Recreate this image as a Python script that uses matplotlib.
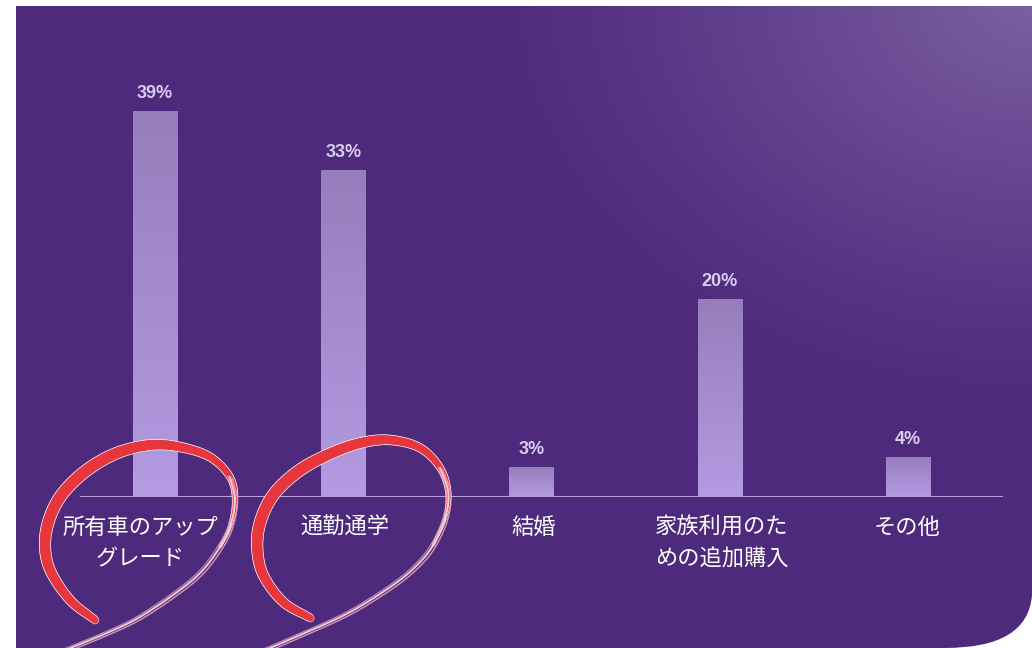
import numpy as np
import matplotlib
matplotlib.use("Agg")
import matplotlib.pyplot as plt
from matplotlib.path import Path
from matplotlib.patches import PathPatch
from matplotlib.collections import LineCollection

plt.rcParams['font.family'] = ['Noto Sans CJK JP', 'DejaVu Sans']

# ---------------- data ----------------
categories = ["所有車のアップ\nグレード", "通勤通学", "結婚", "家族利用のた\nめの追加購入", "その他"]
values = [39, 33, 3, 20, 4]
value_labels = ["39%", "33%", "3%", "20%", "4%"]
highlighted = [0, 1]

# ---------------- figure ----------------
W, H = 1032, 648
DPI = 100
fig = plt.figure(figsize=(W / DPI, H / DPI), dpi=DPI)
fig.patch.set_facecolor('white')

# background panel with gradient
bg = fig.add_axes([0, 0, 1, 1], zorder=0)
bg.axis('off')
verts = [(16, 6), (1032, 6), (1032, 595), (1028, 648), (945, 648), (16, 648), (16, 6)]
codes = [Path.MOVETO, Path.LINETO, Path.LINETO, Path.CURVE3, Path.CURVE3,
         Path.LINETO, Path.CLOSEPOLY]
yy, xx = np.mgrid[0:H, 0:W]
d = np.sqrt(((W - xx) / 560.0) ** 2 + (yy / 420.0) ** 2)
t = np.clip(1 - d, 0, 1) ** 1.2
base = np.array([78, 42, 124]) / 255
light = np.array([124, 96, 162]) / 255
img = base[None, None, :] * (1 - t[..., None]) + light[None, None, :] * t[..., None]
im = bg.imshow(img, extent=(0, W, H, 0), origin='upper', interpolation='bilinear',
               aspect='auto')
panel = PathPatch(Path(verts, codes), facecolor='none', edgecolor='none',
                  transform=bg.transData)
bg.add_patch(panel)
im.set_clip_path(panel)
bg.set_xlim(0, W)
bg.set_ylim(H, 0)

# main axes
px_left, px_right, px_base, px_top = 80, 1003, 497, 60
ax = fig.add_axes([px_left / W, (H - px_base) / H, (px_right - px_left) / W,
                   (px_base - px_top) / H], zorder=1)
ax.patch.set_alpha(0)
for s in ax.spines.values():
    s.set_visible(False)
ax.set_xticks([])
ax.set_yticks([])

x = np.arange(len(categories))
spacing_px = 188.25
xlim = ((px_left - 155) / spacing_px, (px_right - 155) / spacing_px)
ylim = (0, (px_base - px_top) / 9.9)

bars = ax.bar(x, values, width=0.234, color='none', edgecolor='none', zorder=2)
top_c = np.array([150, 126, 188]) / 255
bot_c = np.array([180, 155, 226]) / 255
g = np.linspace(0, 1, 128)[:, None, None]
grad = top_c[None, None, :] * (1 - g) + bot_c[None, None, :] * g
for b in bars:
    bi = ax.imshow(grad, extent=(b.get_x(), b.get_x() + b.get_width(), 0, b.get_height()),
                   origin='upper', aspect='auto', interpolation='bilinear', zorder=2)
    bi.set_clip_path(b)

ax.axhline(0, color='#b6a3dc', lw=2.2, zorder=3)
ax.set_xlim(*xlim)
ax.set_ylim(*ylim)

for xi, v, lbl in zip(x, values, value_labels):
    ax.annotate(lbl, (xi, v), xytext=(0, 6.5), textcoords='offset points',
                ha='center', va='bottom', color='#d8cdee', fontsize=13,
                fontweight='bold', family=['Liberation Sans', 'DejaVu Sans'])

label_dx_px = [-15, 2, 2, 2, -1]
for xi, cat, dx in zip(x, categories, label_dx_px):
    ax.annotate(cat, (xi, 0), xytext=(dx * 0.72, -13.5), textcoords='offset points',
                ha='center', va='top', color='white', fontsize=16,
                linespacing=1.5, multialignment='center')

# ---------------- hand-drawn red circles (decoration) ----------------
inv = ax.transData.inverted()

def to_data(anchor, pts):
    disp = np.column_stack([anchor[0] + pts[:, 0], anchor[1] - pts[:, 1]])
    return inv.transform(disp)

def catmull_rom(P, n=20):
    P = np.asarray(P, dtype=float)
    P = np.vstack([2 * P[0] - P[1], P, 2 * P[-1] - P[-2]])
    out = []
    for i in range(1, len(P) - 2):
        p0, p1, p2, p3 = P[i - 1], P[i], P[i + 1], P[i + 2]
        tt = np.linspace(0, 1, n, endpoint=False)[:, None]
        out.append(0.5 * ((2 * p1) + (-p0 + p2) * tt + (2 * p0 - 5 * p1 + 4 * p2 - p3) * tt ** 2
                          + (-p0 + 3 * p1 - 3 * p2 + p3) * tt ** 3))
    out.append(P[-2][None, :])
    return np.vstack(out)

# stroke guide points, pixel offsets from the bar's base (x right, y down)
stroke_guides = {
    0: [(-60, 123), (-85, 103), (-105, 73), (-110, 46), (-105, 20), (-92, -4), (-68, -27),
        (-38, -44), (-5, -52), (25, -50), (55, -40), (75, -20), (80, 3), (75, 30),
        (65, 50), (48, 73), (25, 93), (-15, 120), (-48, 136), (-82, 150), (-110, 162)],
    1: [(-33, 121), (-60, 105), (-80, 78), (-86, 51), (-83, 25), (-70, -2), (-46, -25),
        (-16, -42), (17, -54), (47, -57), (77, -49), (97, -29), (105, -5), (102, 21),
        (90, 48), (74, 68), (50, 88), (7, 115), (-36, 135), (-66, 148), (-95, 160)],
}
RED_END = 13
N = 20
for idx in highlighted:
    guide = stroke_guides[idx]
    anchor = ax.transData.transform((x[idx], 0))
    # red thick stroke
    red = catmull_rom(guide[:RED_END + 2], N)
    s = np.linspace(0, 1, len(red))
    widths = 1.8 + 6.2 * np.sin(np.pi * np.clip(0.08 + s * 1.0, 0, 1)) ** 0.5
    widths *= np.where(s > 0.45, 1 - 0.45 * (s - 0.45) / 0.55, 1)
    dpts = to_data(anchor, red)
    segs = np.stack([dpts[:-1], dpts[1:]], axis=1)
    ax.add_collection(LineCollection(segs, linewidths=widths[:-1] + 1.4,
                                     colors='#f4dfe6', alpha=0.65, zorder=4,
                                     capstyle='round', clip_on=False))
    ax.add_collection(LineCollection(segs, linewidths=widths[:-1], colors='#e8363d',
                                     zorder=5, capstyle='round', clip_on=False))
    # thin sketchy tail strands
    tail = catmull_rom(guide[RED_END - 2:], N)
    for off, lw, col, al in [((0, 0), 1.4, '#f6d6e0', 0.95), ((2.5, 1.5), 1.0, '#e9a0b4', 0.9),
                             ((-2, -1), 0.8, '#f0b8c8', 0.7)]:
        dt = to_data(anchor, tail + np.array(off))
        ax.plot(dt[:, 0], dt[:, 1], color=col, lw=lw, alpha=al, zorder=5, clip_on=False)

fig.savefig('out.png', dpi=DPI, facecolor=fig.get_facecolor())
